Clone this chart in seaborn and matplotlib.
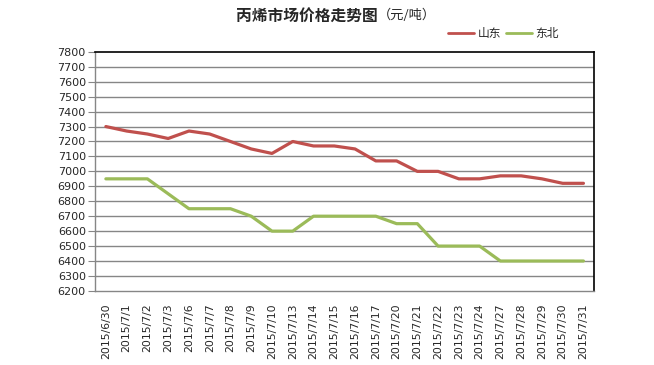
import pandas as pd
import numpy as np
import matplotlib
matplotlib.use("Agg")
import matplotlib.pyplot as plt
import seaborn as sns

dates = ["2015/6/30", "2015/7/1", "2015/7/2", "2015/7/3", "2015/7/6", "2015/7/7",
         "2015/7/8", "2015/7/9", "2015/7/10", "2015/7/13", "2015/7/14", "2015/7/15",
         "2015/7/16", "2015/7/17", "2015/7/20", "2015/7/21", "2015/7/22", "2015/7/23",
         "2015/7/24", "2015/7/27", "2015/7/28", "2015/7/29", "2015/7/30", "2015/7/31"]
shandong = [7300, 7270, 7250, 7220, 7270, 7250, 7200, 7150, 7120, 7200, 7170, 7170,
            7150, 7070, 7070, 7000, 7000, 6950, 6950, 6970, 6970, 6950, 6920, 6920]
dongbei = [6950, 6950, 6950, 6850, 6750, 6750, 6750, 6700, 6600, 6600, 6700, 6700,
           6700, 6700, 6650, 6650, 6500, 6500, 6500, 6400, 6400, 6400, 6400, 6400]
yticks = list(range(6200, 7801, 100))

sns.set_style("white")
plt.rcParams['font.family'] = ['Noto Sans CJK SC', 'DejaVu Sans']

df = pd.DataFrame({"date": dates * 2,
                   "pos": list(range(len(dates))) * 2,
                   "price": shandong + dongbei,
                   "region": ["山东"] * len(dates) + ["东北"] * len(dates)})

fig = plt.figure(figsize=(6.54, 3.65), dpi=100)
ax = fig.add_axes([0.146, 0.203, 0.762, 0.655])

for y in yticks[1:-1]:
    ax.axhline(y, color="#868686", lw=1.0, zorder=0)

sns.lineplot(data=df, x="pos", y="price", hue="region",
             palette={"山东": "#C0504D", "东北": "#9BBB59"},
             linewidth=2.3, ax=ax, legend=False, zorder=3)

ax.set_xlim(-0.5, len(dates) - 0.5)
ax.set_ylim(6200, 7800)
ax.set_yticks(yticks)
ax.set_yticklabels([str(v) for v in yticks], fontsize=8, family="DejaVu Sans")
ax.set_xticks(range(len(dates)))
ax.set_xticklabels(dates, rotation=90, fontsize=7.8, family="DejaVu Sans")
ax.set_xticks(np.arange(-0.5, len(dates), 1), minor=True)
ax.tick_params(axis="x", which="major", length=0, pad=9)
ax.tick_params(axis="x", which="minor", length=5, color="#868686", direction="out")
ax.tick_params(axis="y", length=5, color="#868686", direction="out", left=True, pad=2)
ax.set_xlabel("")
ax.set_ylabel("")

for s in ["left", "bottom"]:
    ax.spines[s].set_color("#868686")
    ax.spines[s].set_linewidth(1.0)
for s in ["top", "right"]:
    ax.spines[s].set_color("black")
    ax.spines[s].set_linewidth(1.2)

fig.text(0.578, 0.958, "丙烯市场价格走势图", ha="right", va="center",
         fontsize=11.3, fontweight="bold")
fig.text(0.578, 0.958, "（元/吨）", ha="left", va="center", fontsize=9.5)

handles = [plt.Line2D([], [], color="#C0504D", lw=2),
           plt.Line2D([], [], color="#9BBB59", lw=2)]
fig.legend(handles, ["山东", "东北"], loc="center", bbox_to_anchor=(0.770, 0.908),
           ncol=2, frameon=False, fontsize=8.5, handlelength=2.2, handletextpad=0.3,
           columnspacing=0.4)

fig.savefig("out.png", dpi=100)
